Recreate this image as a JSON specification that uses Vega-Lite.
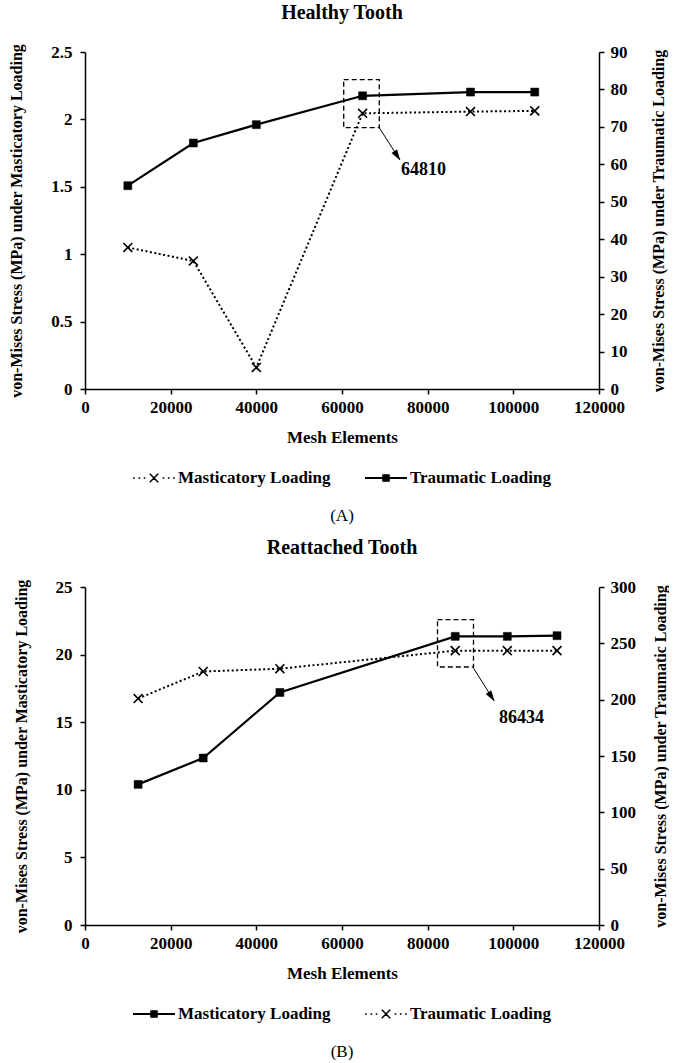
{
  "$schema": "https://vega.github.io/schema/vega-lite/v6.json",
  "padding": {"left": 8, "top": 3, "right": 0, "bottom": 0},
  "background": "white",
  "spacing": 14,
  "resolve": {"scale": {"shape": "independent"}, "legend": {"shape": "independent"}},
  "config": {
    "font": "Liberation Serif",
    "view": {"stroke": null},
    "axis": {
      "grid": false,
      "domainColor": "black",
      "domainWidth": 1.5,
      "tickColor": "black",
      "tickWidth": 1.5,
      "tickSize": 5,
      "labelColor": "black",
      "titleColor": "black",
      "labelFont": "Liberation Serif",
      "titleFont": "Liberation Serif",
      "labelFontSize": 17,
      "labelFontWeight": "bold",
      "titleFontSize": 16,
      "titleFontWeight": "bold",
      "labelFlush": false,
      "labelOverlap": false,
      "labelBound": false
    },
    "title": {"font": "Liberation Serif", "fontSize": 20, "fontWeight": "bold", "color": "black"},
    "legend": {
      "orient": "bottom",
      "direction": "horizontal",
      "titleOrient": "bottom",
      "titleAnchor": "middle",
      "titleFont": "Liberation Serif",
      "titleFontWeight": "normal",
      "titleFontSize": 17,
      "titleColor": "black",
      "titlePadding": 22,
      "labelFont": "Liberation Serif",
      "labelFontSize": 17,
      "labelFontWeight": "bold",
      "labelColor": "black",
      "labelLimit": 300,
      "labelOffset": 3,
      "symbolSize": 1764,
      "symbolStrokeWidth": 0,
      "symbolFillColor": "black",
      "symbolStrokeColor": "black",
      "symbolOpacity": 1,
      "columnPadding": 34,
      "offset": 12,
      "layout": {"bottom": {"anchor": "middle"}}
    }
  },
  "datasets": {
    "healthy": [
      {"mesh": 10000, "series": "Masticatory Loading", "stress": 1.05},
      {"mesh": 25300, "series": "Masticatory Loading", "stress": 0.95},
      {"mesh": 40000, "series": "Masticatory Loading", "stress": 0.16},
      {"mesh": 64810, "series": "Masticatory Loading", "stress": 2.045},
      {"mesh": 90000, "series": "Masticatory Loading", "stress": 2.058},
      {"mesh": 105000, "series": "Masticatory Loading", "stress": 2.063},
      {"mesh": 10000, "series": "Traumatic Loading", "stress": 54.3},
      {"mesh": 25300, "series": "Traumatic Loading", "stress": 65.7},
      {"mesh": 40000, "series": "Traumatic Loading", "stress": 70.6},
      {"mesh": 64810, "series": "Traumatic Loading", "stress": 78.3},
      {"mesh": 90000, "series": "Traumatic Loading", "stress": 79.3},
      {"mesh": 105000, "series": "Traumatic Loading", "stress": 79.3}
    ],
    "reattached": [
      {"mesh": 12400, "series": "Masticatory Loading", "stress": 10.4},
      {"mesh": 27600, "series": "Masticatory Loading", "stress": 12.35},
      {"mesh": 45500, "series": "Masticatory Loading", "stress": 17.2},
      {"mesh": 86434, "series": "Masticatory Loading", "stress": 21.35},
      {"mesh": 98600, "series": "Masticatory Loading", "stress": 21.35},
      {"mesh": 110200, "series": "Masticatory Loading", "stress": 21.4},
      {"mesh": 12400, "series": "Traumatic Loading", "stress": 201},
      {"mesh": 27600, "series": "Traumatic Loading", "stress": 225},
      {"mesh": 45500, "series": "Traumatic Loading", "stress": 227.5},
      {"mesh": 86434, "series": "Traumatic Loading", "stress": 243.5},
      {"mesh": 98600, "series": "Traumatic Loading", "stress": 243.5},
      {"mesh": 110200, "series": "Traumatic Loading", "stress": 243.5}
    ],
    "boxA": [{"mesh": 60400, "mesh2": 68700, "stress": 82.6, "stress2": 69.8}],
    "arrowA": [{"mesh": 68700, "mesh2": 73500, "stress": 69.8, "stress2": 61.2}],
    "tipA": [{"mesh": 73500, "stress": 61.2}],
    "labelA": [{"mesh": 79000, "stress": 58.5, "text": "64810"}],
    "boxB": [{"mesh": 82300, "mesh2": 90700, "stress": 271, "stress2": 229}],
    "arrowB": [{"mesh": 90700, "mesh2": 95500, "stress": 228, "stress2": 199}],
    "tipB": [{"mesh": 95500, "stress": 199}],
    "labelB": [{"mesh": 101900, "stress": 184, "text": "86434"}]
  },
  "vconcat": [
    {
      "title": {"text": "Healthy Tooth", "frame": "group", "anchor": "middle", "offset": 20},
      "width": 514,
      "height": 337,
      "encoding": {
        "x": {"field": "mesh", "type": "quantitative", "scale": {"domain": [0, 120000]},
          "axis": {"values": [0, 20000, 40000, 60000, 80000, 100000, 120000], "format": "d", "title": "Mesh Elements", "labelPadding": 5, "titlePadding": 14, "titleFontSize": 17}}
      },
      "layer": [
        {
          "data": {"name": "healthy"},
          "transform": [{"filter": "datum.series === 'Masticatory Loading'"}],
          "encoding": {
            "y": {"field": "stress", "type": "quantitative", "scale": {"domain": [0, 2.5]},
              "axis": {"orient": "left", "values": [0, 0.5, 1, 1.5, 2, 2.5], "format": "~g", "title": "von-Mises Stress (MPa) under Masticatory Loading", "titlePadding": 26, "labelPadding": 8}}
          },
          "layer": [
            {"mark": {"type": "line", "stroke": "black", "strokeWidth": 2, "strokeDash": [2, 2.5]}},
            {"mark": {"type": "point", "shape": "M-1,-1L1,1M-1,1L1,-1", "filled": false, "stroke": "black", "strokeWidth": 1.6, "size": 80, "opacity": 1}},
            {"mark": {"type": "point", "filled": true, "fill": "black", "opacity": 0},
              "encoding": {"shape": {"field": "series", "type": "nominal",
                "scale": {"domain": ["Masticatory Loading", "Traumatic Loading"],
                  "range": ["M-0.99,-0.04h0.08v0.08h-0.08ZM-0.74,-0.04h0.08v0.08h-0.08ZM-0.49,-0.04h0.08v0.08h-0.08ZM0.41,-0.04h0.08v0.08h-0.08ZM0.66,-0.04h0.08v0.08h-0.08ZM0.91,-0.04h0.08v0.08h-0.08ZM-0.225,-0.175L0.175,0.225L0.225,0.175L-0.175,-0.225ZM-0.225,0.175L-0.175,0.225L0.225,-0.175L0.175,-0.225Z", "M-1,-0.045H1V0.045H-1ZM-0.18,-0.18H0.18V0.18H-0.18Z"]},
                "legend": {"title": "(A)", "symbolOpacity": 1,
                  "encode": {"symbols": {"update": {"fill": {"value": "black"}, "opacity": {"value": 1}}}}}}}}
          ]
        },
        {
          "encoding": {
            "y": {"field": "stress", "type": "quantitative", "scale": {"domain": [0, 90]},
              "axis": {"orient": "right", "values": [0, 10, 20, 30, 40, 50, 60, 70, 80, 90], "format": "d", "title": "von-Mises Stress (MPa) under Traumatic Loading", "titleAngle": 270, "titlePadding": 39, "labelPadding": 6}}
          },
          "layer": [
            {
              "data": {"name": "healthy"},
              "transform": [{"filter": "datum.series === 'Traumatic Loading'"}],
              "layer": [
                {"mark": {"type": "line", "stroke": "black", "strokeWidth": 2.2}},
                {"mark": {"type": "point", "shape": "square", "filled": true, "fill": "black", "stroke": "black", "strokeWidth": 0.5, "size": 64, "opacity": 1}}
              ]
            },
            {
              "data": {"name": "boxA"},
              "mark": {"type": "rect", "fill": "transparent", "stroke": "black", "strokeWidth": 1.3, "strokeDash": [5, 3]},
              "encoding": {"x2": {"field": "mesh2"}, "y2": {"field": "stress2"}}
            },
            {
              "data": {"name": "arrowA"},
              "mark": {"type": "rule", "stroke": "black", "strokeWidth": 1},
              "encoding": {"x2": {"field": "mesh2"}, "y2": {"field": "stress2"}}
            },
            {
              "data": {"name": "tipA"},
              "mark": {"type": "point", "shape": "M0,0L0.6,2L-0.6,2Z", "filled": true, "fill": "black", "stroke": "black", "strokeWidth": 0.5, "size": 100, "angle": 147, "opacity": 1}
            },
            {
              "data": {"name": "labelA"},
              "mark": {"type": "text", "font": "Liberation Serif", "fontSize": 18, "fontWeight": "bold", "color": "black", "align": "center", "baseline": "middle"},
              "encoding": {"text": {"field": "text"}}
            }
          ]
        }
      ],
      "resolve": {"scale": {"y": "independent"}}
    },
    {
      "title": {"text": "Reattached Tooth", "frame": "group", "anchor": "middle", "offset": 20},
      "width": 514,
      "height": 338,
      "encoding": {
        "x": {"field": "mesh", "type": "quantitative", "scale": {"domain": [0, 120000]},
          "axis": {"values": [0, 20000, 40000, 60000, 80000, 100000, 120000], "format": "d", "title": "Mesh Elements", "labelPadding": 5, "titlePadding": 14, "titleFontSize": 17}}
      },
      "layer": [
        {
          "data": {"name": "reattached"},
          "transform": [{"filter": "datum.series === 'Masticatory Loading'"}],
          "encoding": {
            "y": {"field": "stress", "type": "quantitative", "scale": {"domain": [0, 25]},
              "axis": {"orient": "left", "values": [0, 5, 10, 15, 20, 25], "format": "d", "title": "von-Mises Stress (MPa) under Masticatory Loading", "titlePadding": 26, "labelPadding": 8}}
          },
          "layer": [
            {"mark": {"type": "line", "stroke": "black", "strokeWidth": 2.2}},
            {"mark": {"type": "point", "shape": "square", "filled": true, "fill": "black", "stroke": "black", "strokeWidth": 0.5, "size": 64, "opacity": 1}},
            {"mark": {"type": "point", "filled": true, "fill": "black", "opacity": 0},
              "encoding": {"shape": {"field": "series", "type": "nominal",
                "scale": {"domain": ["Masticatory Loading", "Traumatic Loading"],
                  "range": ["M-1,-0.045H1V0.045H-1ZM-0.18,-0.18H0.18V0.18H-0.18Z", "M-0.99,-0.04h0.08v0.08h-0.08ZM-0.74,-0.04h0.08v0.08h-0.08ZM-0.49,-0.04h0.08v0.08h-0.08ZM0.41,-0.04h0.08v0.08h-0.08ZM0.66,-0.04h0.08v0.08h-0.08ZM0.91,-0.04h0.08v0.08h-0.08ZM-0.225,-0.175L0.175,0.225L0.225,0.175L-0.175,-0.225ZM-0.225,0.175L-0.175,0.225L0.225,-0.175L0.175,-0.225Z"]},
                "legend": {"title": "(B)", "symbolOpacity": 1,
                  "encode": {"symbols": {"update": {"fill": {"value": "black"}, "opacity": {"value": 1}}}}}}}}
          ]
        },
        {
          "encoding": {
            "y": {"field": "stress", "type": "quantitative", "scale": {"domain": [0, 300]},
              "axis": {"orient": "right", "values": [0, 50, 100, 150, 200, 250, 300], "format": "d", "title": "von-Mises Stress (MPa) under Traumatic Loading", "titleAngle": 270, "titlePadding": 33, "labelPadding": 6}}
          },
          "layer": [
            {
              "data": {"name": "reattached"},
              "transform": [{"filter": "datum.series === 'Traumatic Loading'"}],
              "layer": [
                {"mark": {"type": "line", "stroke": "black", "strokeWidth": 2, "strokeDash": [2, 2.5]}},
                {"mark": {"type": "point", "shape": "M-1,-1L1,1M-1,1L1,-1", "filled": false, "stroke": "black", "strokeWidth": 1.6, "size": 80, "opacity": 1}}
              ]
            },
            {
              "data": {"name": "boxB"},
              "mark": {"type": "rect", "fill": "transparent", "stroke": "black", "strokeWidth": 1.3, "strokeDash": [5, 3]},
              "encoding": {"x2": {"field": "mesh2"}, "y2": {"field": "stress2"}}
            },
            {
              "data": {"name": "arrowB"},
              "mark": {"type": "rule", "stroke": "black", "strokeWidth": 1},
              "encoding": {"x2": {"field": "mesh2"}, "y2": {"field": "stress2"}}
            },
            {
              "data": {"name": "tipB"},
              "mark": {"type": "point", "shape": "M0,0L0.6,2L-0.6,2Z", "filled": true, "fill": "black", "stroke": "black", "strokeWidth": 0.5, "size": 100, "angle": 147, "opacity": 1}
            },
            {
              "data": {"name": "labelB"},
              "mark": {"type": "text", "font": "Liberation Serif", "fontSize": 18, "fontWeight": "bold", "color": "black", "align": "center", "baseline": "middle"},
              "encoding": {"text": {"field": "text"}}
            }
          ]
        }
      ],
      "resolve": {"scale": {"y": "independent"}}
    }
  ]
}
